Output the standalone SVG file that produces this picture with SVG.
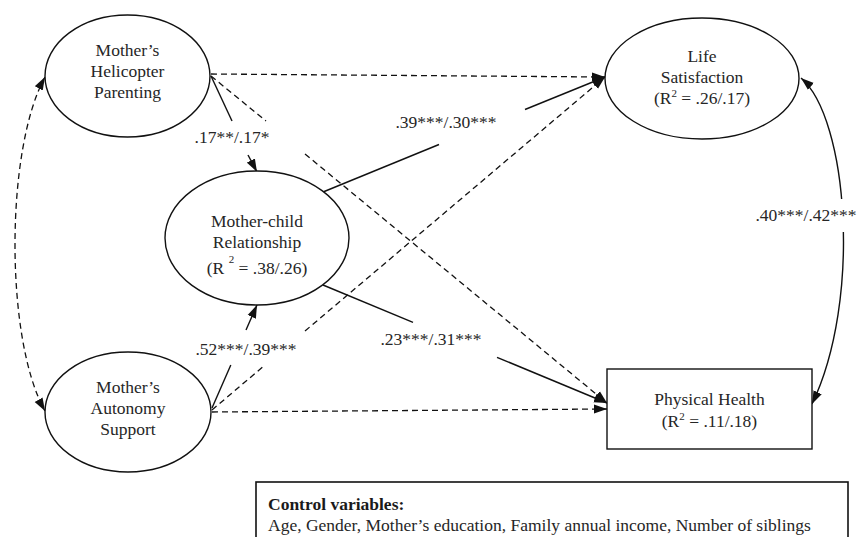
<svg xmlns="http://www.w3.org/2000/svg" width="858" height="537" viewBox="0 0 858 537">
<style>
  .node { fill: #ffffff; stroke: #111; stroke-width: 1.4; }
  .t { font-family: "Liberation Serif", "Times New Roman", serif; font-size: 17.5px; fill: #262626; text-anchor: middle; }
  .sup { font-size: 11px; }
  .lbl { font-family: "Liberation Serif", "Times New Roman", serif; font-size: 17.5px; fill: #262626; text-anchor: middle; }
  .solid { fill: none; stroke: #111; stroke-width: 1.4; }
  .dash { fill: none; stroke: #111; stroke-width: 1.3; stroke-dasharray: 6 4; }
</style>
<defs>
  <marker id="arr" markerUnits="userSpaceOnUse" markerWidth="14" markerHeight="10" refX="13" refY="5" orient="auto-start-reverse">
    <path d="M0,0.5 L13,5 L0,9.5 z" fill="#111"/>
  </marker>
  <mask id="gapMask" maskUnits="userSpaceOnUse" x="0" y="0" width="858" height="537">
    <rect x="0" y="0" width="858" height="537" fill="#fff"/>
    <rect x="825" y="199" width="33" height="33" fill="#000"/>
  </mask>
</defs>
<rect x="0" y="0" width="858" height="537" fill="#ffffff"/>

<g id="connectors">
  <!-- Helicopter -> MCR (solid) -->
  <line class="solid" x1="211" y1="76" x2="232" y2="121"/>
  <line class="solid" x1="248" y1="155" x2="257" y2="172" marker-end="url(#arr)"/>
  <!-- Helicopter -> Physical Health (dashed) -->
  <line class="dash" x1="211" y1="76" x2="266" y2="121"/>
  <line class="dash" x1="305" y1="154" x2="607" y2="403" marker-end="url(#arr)"/>
  <!-- Helicopter -> Life Satisfaction (dashed) -->
  <line class="dash" x1="211" y1="74" x2="605" y2="77" marker-end="url(#arr)"/>
  <!-- MCR -> Life Satisfaction (solid) -->
  <line class="solid" x1="323" y1="192" x2="439" y2="144.5"/>
  <line class="solid" x1="525" y1="109.5" x2="605" y2="77" marker-end="url(#arr)"/>
  <!-- Autonomy -> Life Satisfaction (dashed) -->
  <line class="dash" x1="212" y1="410" x2="265" y2="365"/>
  <line class="dash" x1="305" y1="331" x2="605" y2="77" marker-end="url(#arr)"/>
  <!-- Autonomy -> MCR (solid) -->
  <line class="solid" x1="212" y1="408" x2="230.8" y2="365"/>
  <line class="solid" x1="246" y1="330" x2="257" y2="305" marker-end="url(#arr)"/>
  <!-- Autonomy -> Physical Health (dashed) -->
  <line class="dash" x1="212" y1="412" x2="607" y2="409" marker-end="url(#arr)"/>
  <!-- MCR -> Physical Health (solid) -->
  <line class="solid" x1="323" y1="285" x2="413" y2="322.4"/>
  <line class="solid" x1="497" y1="357.3" x2="607" y2="403" marker-end="url(#arr)"/>
  <!-- Helicopter <-> Autonomy (dashed curve) -->
  <path class="dash" d="M45,77 C5,150 5,340 45,411" marker-start="url(#arr)" marker-end="url(#arr)"/>
  <!-- Life Satisfaction <-> Physical Health (solid curve) -->
  <path class="solid" d="M801,78 C848,118 862,300 812,404" marker-start="url(#arr)" marker-end="url(#arr)" mask="url(#gapMask)"/>
</g>

<g id="labels">
  <text class="lbl" x="232" y="143">.17**/.17*</text>
  <text class="lbl" x="446" y="128">.39***/.30***</text>
  <text class="lbl" x="246" y="355">.52***/.39***</text>
  <text class="lbl" x="431" y="345">.23***/.31***</text>
  <text class="lbl" x="806" y="221">.40***/.42***</text>
</g>

<g id="helicopter">
  <ellipse class="node" cx="127.5" cy="76" rx="82.5" ry="61"/>
  <text class="t" x="127.5" y="56">Mother’s</text>
  <text class="t" x="127.5" y="77">Helicopter</text>
  <text class="t" x="127.5" y="98">Parenting</text>
</g>

<g id="life-satisfaction">
  <ellipse class="node" cx="702" cy="78.5" rx="97" ry="60.5"/>
  <text class="t" x="702" y="62">Life</text>
  <text class="t" x="702" y="83">Satisfaction</text>
  <text class="t" x="702" y="104">(R<tspan class="sup" dy="-7">2</tspan><tspan dy="7"> = .26/.17)</tspan></text>
</g>

<g id="mother-child">
  <ellipse class="node" cx="257" cy="238" rx="92" ry="67"/>
  <text class="t" x="257" y="227">Mother-child</text>
  <text class="t" x="257" y="248">Relationship</text>
  <text class="t" x="257" y="274">(R <tspan class="sup" dy="-11">2</tspan><tspan dy="11"> = .38/.26)</tspan></text>
</g>

<g id="autonomy">
  <ellipse class="node" cx="128" cy="412" rx="83" ry="60"/>
  <text class="t" x="128" y="393">Mother’s</text>
  <text class="t" x="128" y="414">Autonomy</text>
  <text class="t" x="128" y="435">Support</text>
</g>

<g id="physical-health">
  <rect class="node" x="607" y="369" width="205" height="80"/>
  <text class="t" x="709.5" y="405">Physical Health</text>
  <text class="t" x="709.5" y="427">(R<tspan class="sup" dy="-7">2</tspan><tspan dy="7"> = .11/.18)</tspan></text>
</g>

<g id="control-variables">
  <rect x="256" y="482" width="592" height="70" fill="#ffffff" stroke="#111" stroke-width="1.6"/>
  <text x="268" y="510" font-family="Liberation Serif, Times New Roman, serif" font-size="17.5" font-weight="bold" fill="#1a1a1a">Control variables:</text>
  <text x="268" y="531" font-family="Liberation Serif, Times New Roman, serif" font-size="17.5" fill="#262626">Age, Gender, Mother’s education, Family annual income, Number of siblings</text>
</g>
</svg>
